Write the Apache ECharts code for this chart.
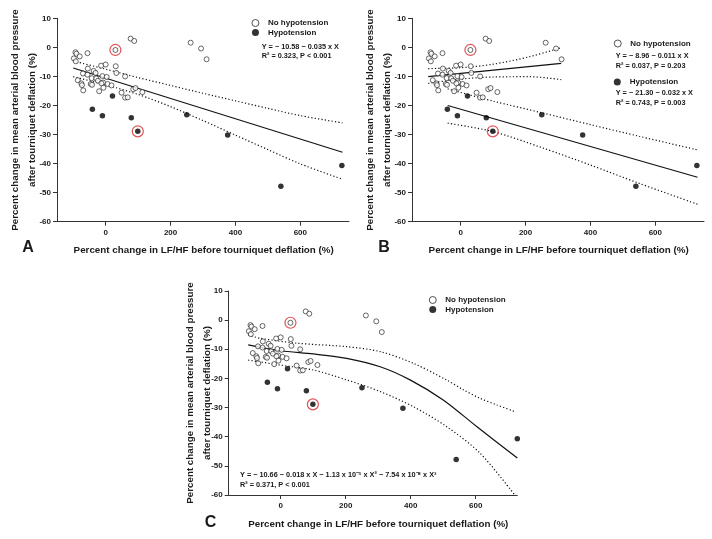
<!DOCTYPE html>
<html>
<head>
<meta charset="utf-8">
<script src="https://cdn.jsdelivr.net/npm/echarts@6/dist/echarts.min.js"></script>
<style>
html,body{margin:0;padding:0;background:#fff;}
#c{width:712px;height:539px;}
</style>
</head>
<body>
<div id="c"></div>
<script>
// ---- data ----
const xTicks = [0, 200, 400, 600];
const noHypo = [[-98,-3.8],[-93,-1.7],[-90,-2.2],[-92,-4.8],[-80,-3.1],[-86,-11.3],[-75,-12.4],[-73,-13.0],[-70,-9.0],[-69,-14.8],[-56,-2.0],[-55,-7.3],[-56,-9.4],[-46,-12.6],[-42,-12.9],[-43,-10.6],[-37,-8.1],[-31,-8.8],[-29,-10.7],[-24,-11.5],[-20,-15.1],[-14,-6.3],[-10,-9.9],[-8,-12.1],[-7,-13.9],[-13,-12.4],[0,-5.9],[3,-10.2],[6,-12.6],[18,-13.1],[30,-0.9],[31,-6.5],[33,-8.8],[49,-15.6],[60,-10.0],[60,-17.3],[68,-17.2],[77,3.0],[88,2.2],[85,-14.4],[92,-14.0],[113,-15.4],[262,1.6],[294,-0.4],[311,-4.1]];
const hypo = [[-41,-21.3],[-10,-23.5],[21,-16.7],[79,-24.2],[99,-28.9],[250,-23.2],[376,-30.2],[540,-47.8],[728,-40.7]];
const highlighted = [[30,-0.9],[99,-28.9]];

// Panel A: linear fit, all patients
const fitA = [[-100,-7.1],[730,-36.1]];
const bandAx = [-100,0,100,200,300,400,500,600,730];
const bandAup = [-4.7,-7.5,-10.4,-13.1,-15.8,-18.4,-21.0,-23.5,-26.0];
const bandAlo = [-10.1,-12.9,-16.2,-20.4,-25.2,-30.2,-35.2,-40.1,-45.4];

// Panel B: separate fits
const fitBno = [[-100,-10.1],[310,-5.5]];
const bandBnoX = [-100,0,100,213,310];
const bandBnoUp = [-7.3,-7.0,-5.8,-3.2,-0.1];
const bandBnoLo = [-12.4,-10.9,-10.2,-10.1,-11.1];
const fitBhy = [[-40,-20.0],[730,-44.7]];
const bandBhyX = [-40,100,250,400,550,730];
const bandBhyUp = [-14.3,-18.5,-22.5,-26.6,-30.6,-35.3];
const bandBhyLo = [-26.1,-29.0,-34.5,-40.5,-46.8,-54.0];

// Panel C: cubic fit
const curveCx = [-100,-2,100,203,306,398,500,603,728];
const curveCy = [-8.5,-10.5,-11.6,-13.1,-16.0,-20.5,-27.4,-36.5,-47.3];
const bandCupX = [-100,-64,49,203,306,408,510,562,613,665,721];
const bandCupY = [-5.1,-6.2,-7.9,-9.1,-10.8,-14.8,-20.5,-23.9,-26.8,-29.1,-31.4];
const bandCloX = [-100,-2,100,203,306,408,510,613,720];
const bandCloY = [-13.7,-15.4,-17.1,-20.5,-24.5,-29.7,-36.5,-45.6,-60];

const yTitle1 = 'Percent change in mean arterial blood pressure';
const yTitle2 = 'after tourniquet deflation (%)';
const xTitle = 'Percent change in LF/HF before tourniquet deflation (%)';

// ---- chart ----
const FONT = '"Liberation Sans", Arial, sans-serif';
const INK = '#1a1a1a';
const zip = (xs, ys) => xs.map((x, i) => [x, ys[i]]);

const grids = [
  {left: 57, top: 18.3, width: 292, height: 203.4},
  {left: 412, top: 18.3, width: 292, height: 203.4},
  {left: 228.7, top: 291, width: 288.6, height: 204}
];
const xRanges = [[-150, 750], [-150, 750], [-160, 728]];

const xAxes = grids.map((g, i) => ({
  gridIndex: i, type: 'value', min: xRanges[i][0], max: xRanges[i][1],
  axisLine: {show: true, onZero: false, lineStyle: {color: '#333', width: 1}},
  axisTick: {show: true, customValues: xTicks, length: 4, lineStyle: {color: '#333'}},
  axisLabel: {customValues: xTicks, margin: 7, fontSize: 8, fontWeight: 'bold', fontFamily: FONT, color: INK},
  splitLine: {show: false}
}));
const yAxes = grids.map((g, i) => ({
  gridIndex: i, type: 'value', min: -60, max: 10, interval: 10,
  axisLine: {show: true, onZero: false, lineStyle: {color: '#333', width: 1}},
  axisTick: {show: true, length: 4, lineStyle: {color: '#333'}},
  axisLabel: {margin: 6, fontSize: 8, fontWeight: 'bold', fontFamily: FONT, color: INK},
  splitLine: {show: false}
}));

function lineS(i, data, dotted, smooth) {
  return {
    type: 'line', xAxisIndex: i, yAxisIndex: i, data: data, symbol: 'none',
    smooth: smooth ? 0.3 : false, silent: true, z: 2, clip: true,
    lineStyle: {color: '#111', width: 1.2, type: dotted ? [1.2, 2.2] : 'solid'}
  };
}
function pointsS(i) {
  return [
    {type: 'scatter', name: 'No hypotension', xAxisIndex: i, yAxisIndex: i, data: noHypo,
     symbol: 'circle', symbolSize: 5, z: 5,
     itemStyle: {color: '#fff', borderColor: '#111', borderWidth: 0.8}},
    {type: 'scatter', name: 'Hypotension', xAxisIndex: i, yAxisIndex: i, data: hypo,
     symbol: 'circle', symbolSize: 5.5, z: 5, itemStyle: {color: '#000'}},
    {type: 'scatter', name: 'highlight', xAxisIndex: i, yAxisIndex: i, data: highlighted,
     symbol: 'circle', symbolSize: 11, z: 6,
     itemStyle: {color: 'rgba(0,0,0,0)', borderColor: '#d8262a', borderWidth: 1.2}}
  ];
}

const series = [
  lineS(0, fitA, false, false),
  lineS(0, zip(bandAx, bandAup), true, true),
  lineS(0, zip(bandAx, bandAlo), true, true),
  ...pointsS(0),
  lineS(1, fitBno, false, false),
  lineS(1, zip(bandBnoX, bandBnoUp), true, true),
  lineS(1, zip(bandBnoX, bandBnoLo), true, true),
  lineS(1, fitBhy, false, false),
  lineS(1, zip(bandBhyX, bandBhyUp), true, true),
  lineS(1, zip(bandBhyX, bandBhyLo), true, true),
  ...pointsS(1),
  lineS(2, zip(curveCx, curveCy), false, true),
  lineS(2, zip(bandCupX, bandCupY), true, true),
  lineS(2, zip(bandCloX, bandCloY), true, true),
  ...pointsS(2)
];

const legItems = {
  no: {name: 'No hypotension', icon: 'circle', itemStyle: {color: '#fff', borderColor: '#111', borderWidth: 0.9}},
  hy: {name: 'Hypotension', icon: 'circle', itemStyle: {color: '#000', borderWidth: 0}}
};
function legend(left, top, items) {
  return {
    left: left, top: top, orient: 'vertical', itemWidth: 7, itemHeight: 7, itemGap: 0.5,
    selectedMode: false, padding: 0, data: items,
    textStyle: {fontSize: 8, fontWeight: 'bold', fontFamily: FONT, color: INK, lineHeight: 9, padding: [0, 0, 0, 4]}
  };
}

function txt(x, y, s, opt) {
  opt = opt || {};
  return {
    type: 'text', x: x, y: y, rotation: opt.rot || 0, silent: true,
    style: {text: s, fill: INK, font: (opt.w || 'bold') + ' ' + (opt.size || 7.3) + 'px ' + FONT,
            textAlign: opt.align || 'left', textVerticalAlign: 'middle'}
  };
}
const R = Math.PI / 2;
const graphics = [
  txt(261.7, 46.7, 'Y = \u2212 10.58 \u2212 0.035 x X'),
  txt(261.7, 56, 'R\u00b2 = 0.323, P < 0.001'),
  txt(615.7, 56, 'Y = \u2212 8.96 \u2212 0.011 x X'),
  txt(615.7, 65.7, 'R\u00b2 = 0.037, P = 0.203'),
  txt(615.7, 92.7, 'Y = \u2212 21.30 \u2212 0.032 x X'),
  txt(615.7, 102.7, 'R\u00b2 = 0.743, P = 0.003'),
  txt(240, 475, 'Y = \u2212 10.66 \u2212 0.018 x X \u2212 1.13 x 10\u207b\u2075 x X\u00b2 \u2212 7.54 x 10\u207b\u2078 x X\u00b3'),
  txt(240, 485, 'R\u00b2 = 0.371, P < 0.001'),
  txt(203.7, 250.7, xTitle, {size: 9.8, align: 'center'}),
  txt(558.7, 250.7, xTitle, {size: 9.8, align: 'center'}),
  txt(378.3, 524.3, xTitle, {size: 9.8, align: 'center'}),
  txt(15, 120, yTitle1, {size: 9.8, align: 'center', rot: R}),
  txt(32.3, 120, yTitle2, {size: 9.8, align: 'center', rot: R}),
  txt(370, 120, yTitle1, {size: 9.8, align: 'center', rot: R}),
  txt(387.3, 120, yTitle2, {size: 9.8, align: 'center', rot: R}),
  txt(190.7, 393, yTitle1, {size: 9.8, align: 'center', rot: R}),
  txt(207.3, 393, yTitle2, {size: 9.8, align: 'center', rot: R}),
  txt(28, 247.5, 'A', {size: 16, align: 'center'}),
  txt(384, 247.5, 'B', {size: 16, align: 'center'}),
  txt(210.5, 522.5, 'C', {size: 16, align: 'center'})
];

const chart = echarts.init(document.getElementById('c'), null, {renderer: 'canvas'});
chart.setOption({
  backgroundColor: '#fff',
  animation: false,
  grid: grids,
  xAxis: xAxes,
  yAxis: yAxes,
  legend: [
    legend(251.5, 18.5, [legItems.no, legItems.hy]),
    legend(613.8, 39, [legItems.no]),
    legend(613.8, 77.5, [legItems.hy]),
    legend(428.8, 295.5, [legItems.no, legItems.hy])
  ],
  series: series,
  graphic: graphics
});
</script>
</body>
</html>
